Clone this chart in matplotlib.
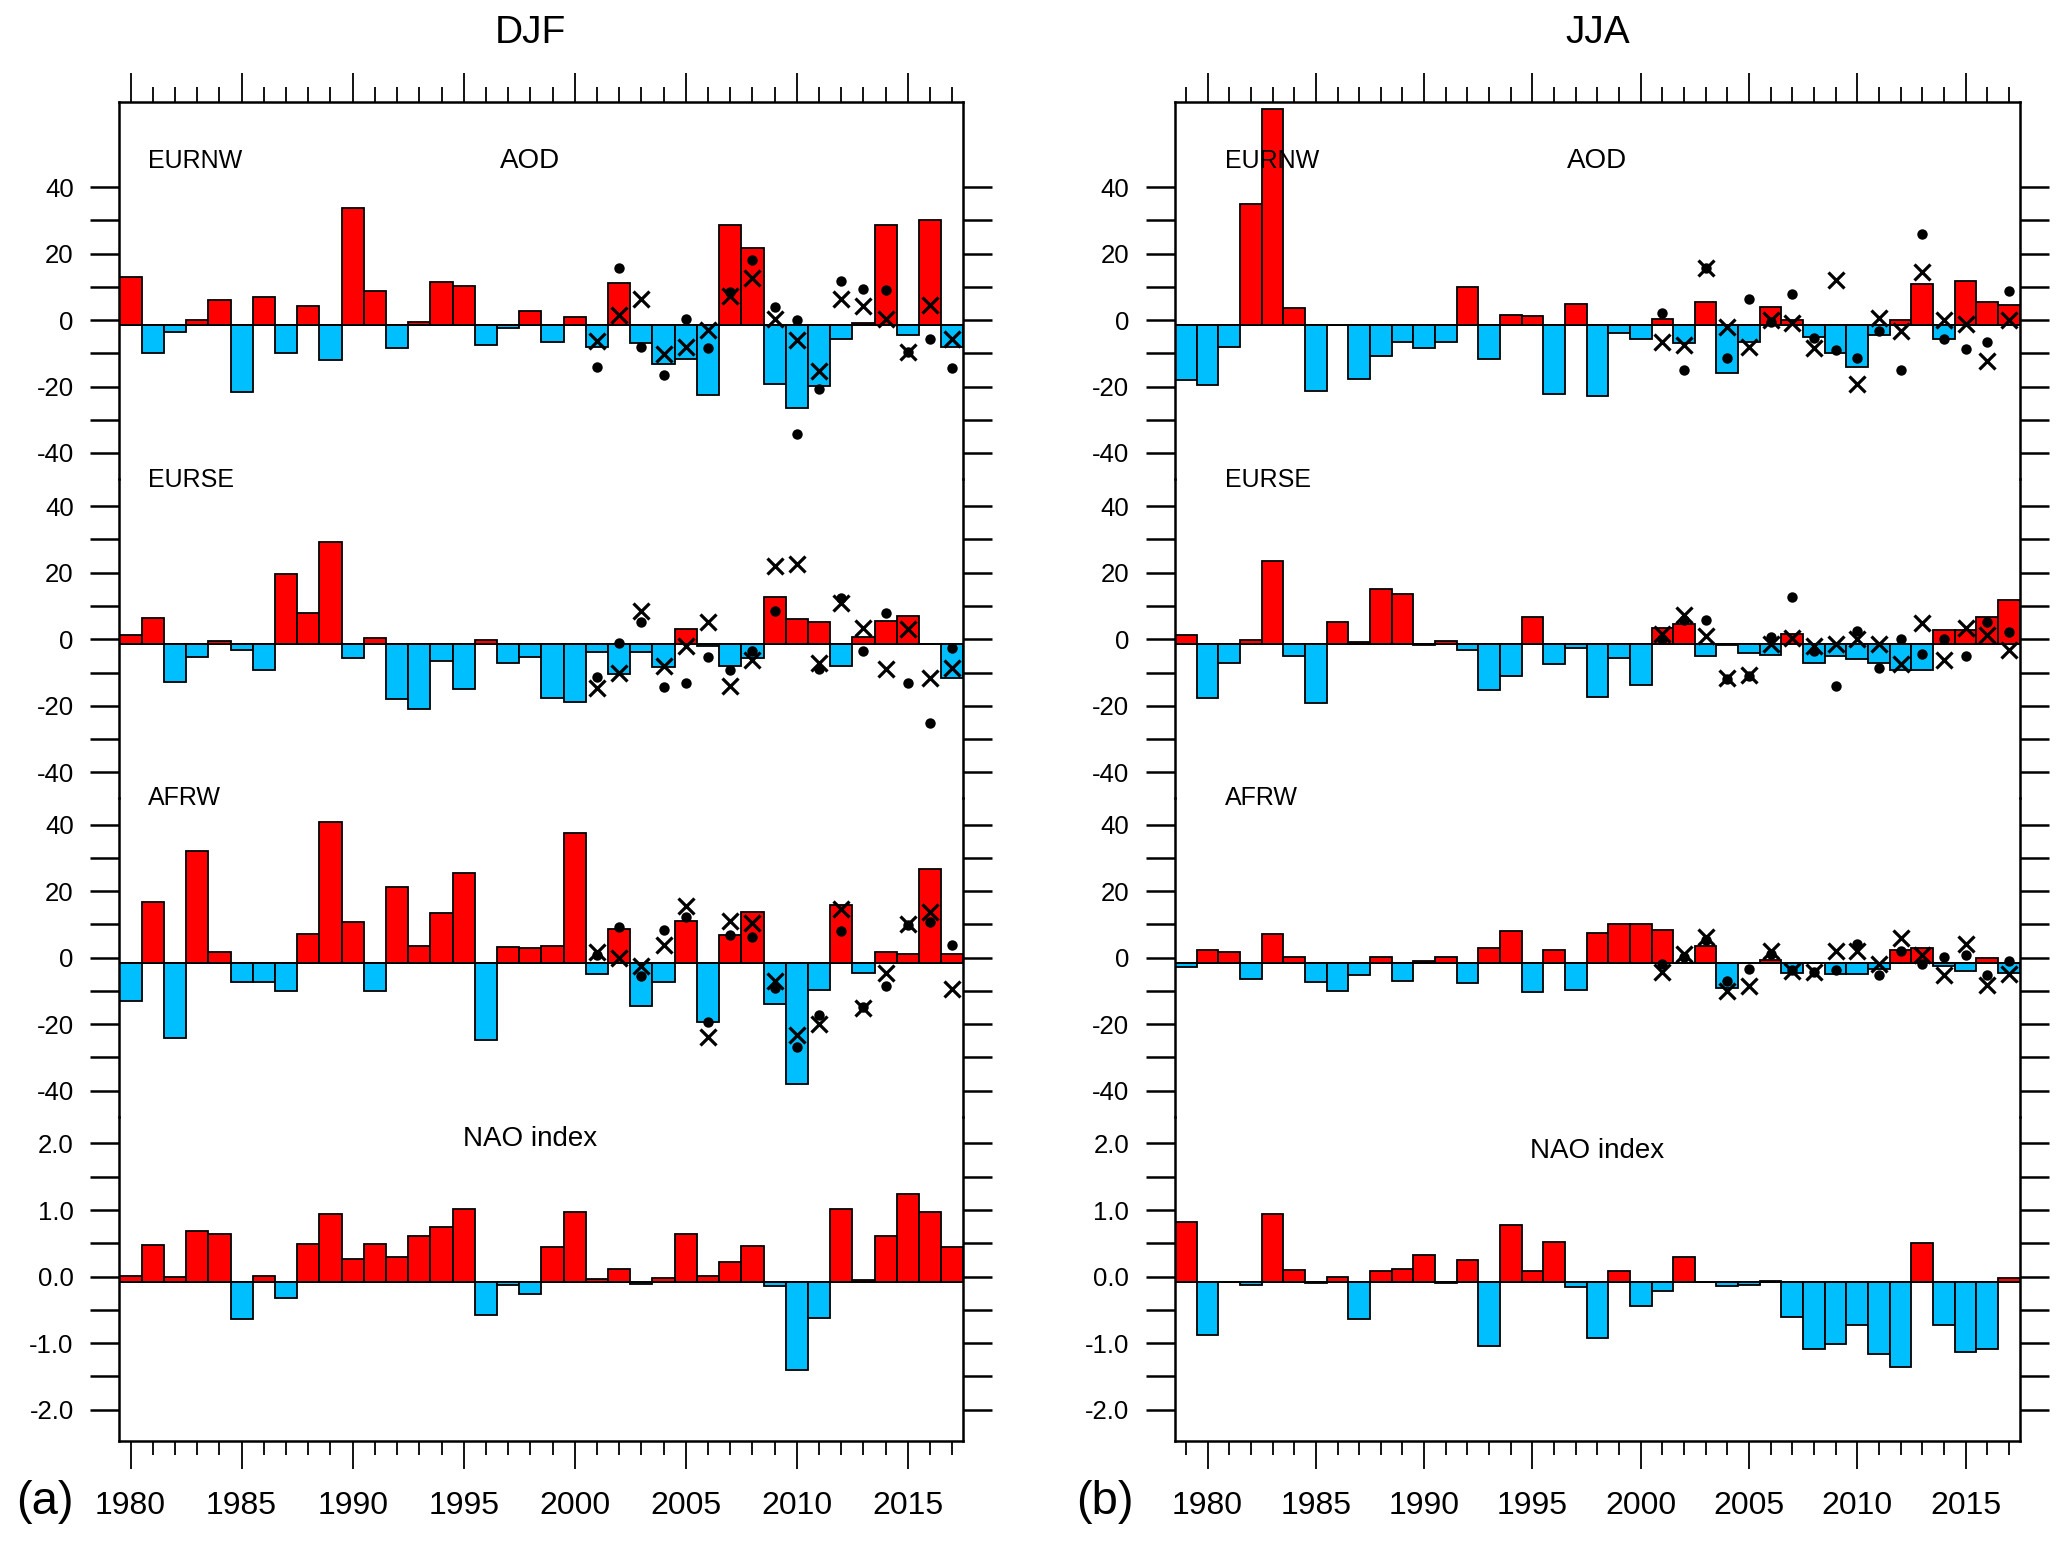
import numpy as np
import matplotlib.pyplot as plt
from matplotlib.ticker import FixedLocator, FixedFormatter
import matplotlib.transforms as mtransforms

plt.rcParams['font.family'] = ['Liberation Sans', 'DejaVu Sans']
plt.rcParams['axes.unicode_minus'] = False

years_djf = np.arange(1980, 2018)
years_jja = np.arange(1979, 2018)
years_mark = np.arange(2001, 2018)

# ---- DJF ----
djf_eurnw = [13.0, -9.8, -3.7, 0.0, 6.0, -21.5, 7.0, -10.0, 4.2, -12.0,
             33.6, 8.7, -8.5, -0.6, 11.3, 10.3, -7.5, -2.5, 2.8, -6.5,
             1.0, -8.2, 11.1, -6.8, -13.3, -11.7, -22.5, 28.7, 21.8, -19.3,
             -26.5, -19.7, -5.6, -0.8, 28.6, -4.6, 30.0, -8.0]
djf_eurnw_x = [-6.2, 1.5, 6.3, -10.2, -8.0, -3.0, 7.2, 12.7, 0.2, -6.0,
               -15.3, 6.2, 4.2, 0.2, -9.5, 4.5, -5.8]
djf_eurnw_dot = [-14.0, 15.7, -8.0, -16.6, 0.3, -8.5, 8.5, 18.0, 3.8, -34.4,
                 -20.6, 11.8, 9.2, 9.0, -9.5, -5.8, -14.3]
djf_eurnw_dot_extra_yr = [2010]
djf_eurnw_dot_extra = [0.0]

djf_eurse = [1.4, 6.5, -12.7, -5.3, -0.6, -3.2, -9.2, 19.6, 7.8, 29.1,
             -5.6, 0.5, -17.9, -20.9, -6.4, -14.8, -0.1, -7.2, -5.4, -17.6,
             -18.7, -3.9, -10.5, -3.9, -8.4, 3.0, -2.1, -8.0, -5.5, 12.8,
             6.2, 5.1, -8.0, 0.6, 5.5, 7.0, -1.5, -11.7]
djf_eurse_x = [-14.5, -10.2, 8.5, -8.0, -1.9, 5.1, -14.0, -6.2, 21.9, 22.6,
               -7.0, 10.8, 3.3, -9.0, 3.0, -11.7, -8.5]
djf_eurse_dot = [-11.2, -1.1, 5.1, -14.3, -13.0, -5.2, -9.2, -3.4, 8.6, np.nan,
                 -9.0, 12.3, -3.5, 7.8, -13.0, -25.0, -2.7]

djf_afrw = [-13.2, 16.6, -24.2, 32.1, 1.7, -7.4, -7.2, -9.9, 7.1, 40.8,
            10.7, -9.9, 21.3, 3.5, 13.3, 25.4, -24.8, 3.1, 2.8, 3.6,
            37.4, -4.8, 8.5, -14.5, -7.3, 11.1, -19.5, 6.9, 13.7, -14.0,
            -38.1, -9.7, 15.7, -4.5, 1.6, 1.0, 26.8, 1.0]
djf_afrw_x = [1.6, -0.2, -2.4, 3.8, 15.6, -24.0, 11.1, 10.5, -7.0, -23.3,
              -20.0, 14.5, -15.2, -4.5, 10.0, 13.8, -9.4]
djf_afrw_dot = [0.8, 9.1, -5.4, 8.3, 12.3, -19.3, 6.8, 6.3, -9.2, -26.8,
                -17.3, 8.0, -15.0, -8.5, 9.8, 10.6, 3.8]

djf_nao = [0.01, 0.475, -0.01, 0.68, 0.64, -0.635, 0.015, -0.315, 0.485, 0.935,
           0.27, 0.49, 0.30, 0.61, 0.74, 1.015, -0.57, -0.13, -0.255, 0.445,
           0.965, -0.04, 0.115, -0.115, -0.015, 0.64, 0.01, 0.22, 0.455, -0.135,
           -1.41, -0.615, 1.02, -0.055, 0.615, 1.245, 0.975, 0.45]

# ---- JJA ----
jja_eurnw = [-18.1, -19.6, -8.0, 35.0, 63.5, 3.5, -21.4, -1.4, -17.8, -10.8,
             -6.5, -8.3, -6.5, 10.0, -11.7, 1.4, 1.2, -22.2, 4.9, -22.9,
             -3.9, -5.8, 0.4, -6.8, 5.5, -15.9, -6.6, 3.9, 0.0, -5.0,
             -10.0, -14.0, -4.5, -0.1, 10.7, -5.8, 11.6, 5.3, 4.4]
jja_eurnw_x = [-6.5, -7.5, 15.6, -2.0, -8.0, 0.0, -1.0, -8.5, 12.1, -19.1,
               0.5, -3.2, 14.6, 0.0, -1.3, -12.3, 0.0]
jja_eurnw_dot = [2.0, -15.1, 15.6, -11.4, 6.3, -0.5, 7.8, -5.5, -9.0, -11.3,
                 -3.2, -14.9, 25.9, -5.8, -8.6, -6.7, 8.8]

jja_eurse = [1.2, -17.6, -7.1, -0.2, 23.5, -5.1, -19.1, 5.1, -0.9, 15.0,
             13.5, -1.7, -0.5, -3.2, -15.1, -10.9, 6.6, -7.3, -2.6, -17.4,
             -5.6, -13.6, 3.3, 4.5, -5.0, -1.7, -4.0, -4.6, 1.7, -7.0,
             -5.0, -5.8, -7.2, -9.2, -9.3, 2.8, 2.7, 6.7, 11.9]
jja_eurse_x = [1.7, 7.2, 1.0, -11.5, -10.8, -1.3, 0.5, -2.0, -1.3, 0.0,
               -1.5, -7.3, 4.9, -6.1, 3.5, 1.2, -3.3]
jja_eurse_dot = [0.2, 5.7, 5.7, -12.0, -11.0, 0.7, 12.7, -3.5, -14.0, 2.5,
                 -8.5, 0.2, -4.5, 0.0, -5.0, 5.2, 2.2]

jja_afrw = [-2.8, 2.3, 1.6, -6.5, 7.0, 0.2, -7.2, -10.0, -5.1, 0.2,
            -7.1, -0.9, 0.2, -7.5, 2.9, 8.0, -10.3, 2.2, -9.7, 7.4,
            10.2, 10.2, 8.2, -1.5, 3.5, -9.1, -1.5, -0.8, -4.5, -1.5,
            -4.9, -4.9, -3.3, 2.3, 3.0, -2.5, -4.1, 0.0, -4.6]
jja_afrw_x = [-4.3, 1.0, 6.2, -10.0, -8.5, 2.0, -4.1, -4.3, 2.0, 2.0,
              -1.8, 6.0, 0.7, -5.3, 4.2, -8.3, -5.0]
jja_afrw_dot = [-1.8, 0.2, 5.2, -7.1, -3.3, 1.2, -3.6, -4.3, -3.6, 4.0,
                -5.3, 2.0, -1.8, 0.2, 0.9, -5.3, -1.1]

jja_nao = [0.825, -0.88, -0.08, -0.13, 0.935, 0.10, -0.09, 0.0, -0.64, 0.08,
           0.11, 0.32, -0.095, 0.245, -1.045, 0.78, 0.085, 0.52, -0.15, -0.93,
           0.085, -0.435, -0.21, 0.295, -0.08, -0.135, -0.12, -0.065, -0.61, -1.09,
           -1.015, -0.725, -1.17, -1.355, 0.50, -0.73, -1.135, -1.09, -0.025]

regions = ['EURNW', 'EURSE', 'AFRW']

RED = '#ff0000'
BLUE = '#00bfff'

fig = plt.figure(figsize=(20.67, 15.43), dpi=100)

# panel layout (figure fractions), top to bottom
pan_bot = [0.6894, 0.4828, 0.2762, 0.0661]
pan_top = [0.9341, 0.6894, 0.4828, 0.2762]
pan_ylim = [(-47.9, 65.7), (-47.7, 48.1), (-47.9, 48.0), (-2.47, 2.40)]


def bars(ax, years, vals, base):
    vals = np.array(vals)
    cols = np.where(vals > base, RED, BLUE)
    ax.bar(years, vals - base, bottom=base, width=1.0, color=cols,
           edgecolor='black', linewidth=1.3, zorder=2)
    ax.axhline(base, color='black', lw=1.3, zorder=2.5)


def column(x0, w, years, aod, xs, dots, nao, title, letter, nao_y, extra=None):
    axes = []
    for i in range(4):
        ax = fig.add_axes([x0, pan_bot[i], w, pan_top[i] - pan_bot[i]])
        ax.patch.set_visible(False)
        ax.set_xlim(years[0] - 0.5, years[-1] + 0.5)
        ax.set_ylim(*pan_ylim[i])
        for s in ['left', 'right', 'top', 'bottom']:
            ax.spines[s].set_linewidth(1.8)
        if i > 0:
            ax.spines['top'].set_visible(False)
        if i < 3:
            ax.spines['bottom'].set_visible(False)

        if i < 3:
            bars(ax, years, aod[i], -1.5)
            ax.plot(years_mark, xs[i], 'x', color='black', ms=11, mew=2.3, zorder=4)
            ax.plot(years_mark, dots[i], 'o', color='black', ms=7.5, mec='none', zorder=4)
            ax.yaxis.set_major_locator(FixedLocator([-40, -20, 0, 20, 40]))
            ax.yaxis.set_major_formatter(FixedFormatter(['-40', '-20', '0', '20', '40']))
            ax.yaxis.set_minor_locator(FixedLocator([-30, -10, 10, 30]))
            ax.text(1980.8, 48, regions[i], fontsize=18, ha='left', va='center',
                    clip_on=False, zorder=5)
        else:
            bars(ax, years, nao, -0.075)
            ax.yaxis.set_major_locator(FixedLocator([-2, -1, 0, 1, 2]))
            ax.yaxis.set_major_formatter(FixedFormatter(['-2.0', '-1.0', '0.0', '1.0', '2.0']))
            ax.yaxis.set_minor_locator(FixedLocator([-1.5, -0.5, 0.5, 1.5]))
            ax.text(1998, nao_y, 'NAO index', fontsize=20, ha='center', va='center')

        ax.tick_params(axis='y', which='both', direction='out', length=21, width=1.8,
                       left=True, right=True, labelleft=True, labelright=False,
                       labelsize=18.5, pad=12)

        maj = [y for y in years if y % 5 == 0]
        mnr = [y for y in years if y % 5 != 0]
        ax.xaxis.set_major_locator(FixedLocator(maj))
        ax.xaxis.set_minor_locator(FixedLocator(mnr))
        if i == 0:
            ax.tick_params(axis='x', which='both', direction='out', width=1.3,
                           top=True, bottom=False, labeltop=False, labelbottom=False)
            ax.tick_params(axis='x', which='major', length=21)
            ax.tick_params(axis='x', which='minor', length=10.5)
            ax.text(1998, 48, 'AOD', fontsize=20, ha='center', va='center')
            trans = mtransforms.blended_transform_factory(ax.transData, fig.transFigure)
            ax.text(1998, 0.9786, title, fontsize=28, ha='center', va='center',
                    transform=trans)
            if extra is not None:
                ax.plot(extra[0], extra[1], 'o', color='black', ms=7.5, mec='none', zorder=4)
        elif i == 3:
            ax.tick_params(axis='x', which='both', direction='out', width=1.3,
                           top=False, bottom=True, labelbottom=True, labelsize=23, pad=16)
            ax.tick_params(axis='x', which='major', length=20)
            ax.tick_params(axis='x', which='minor', length=10)
        else:
            ax.tick_params(axis='x', which='both', top=False, bottom=False,
                           labelbottom=False)
        axes.append(ax)
    fig.text(letter[1], 0.0266, letter[0], fontsize=34, ha='center', va='center')
    return axes


column(0.0578, 0.4083, years_djf,
       [djf_eurnw, djf_eurse, djf_afrw],
       [djf_eurnw_x, djf_eurse_x, djf_afrw_x],
       [djf_eurnw_dot, djf_eurse_dot, djf_afrw_dot],
       djf_nao, 'DJF', ('(a)', 0.0218), 2.07,
       extra=(djf_eurnw_dot_extra_yr, djf_eurnw_dot_extra))

column(0.5685, 0.4086, years_jja,
       [jja_eurnw, jja_eurse, jja_afrw],
       [jja_eurnw_x, jja_eurse_x, jja_afrw_x],
       [jja_eurnw_dot, jja_eurse_dot, jja_afrw_dot],
       jja_nao, 'JJA', ('(b)', 0.5346), 1.89)

fig.savefig('out.png', dpi=100)
